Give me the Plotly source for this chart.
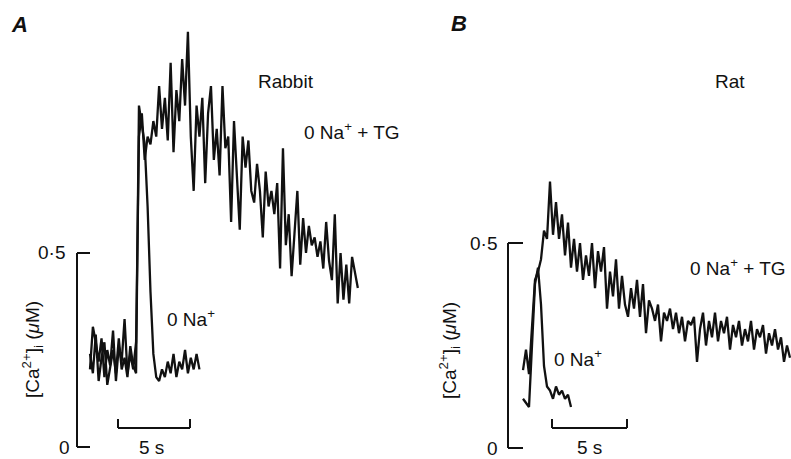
import plotly.graph_objects as go

W, H = 791, 459
DT = 0.2  # s per sample

# ---------------- data ([Ca2+]i in uM) ----------------
rabbit_tg = [0.20, 0.31, 0.27, 0.22, 0.28, 0.18, 0.25, 0.21, 0.30, 0.17, 0.26, 0.22, 0.33, 0.19, 0.24, 0.20, 0.27,
             0.80, 0.86, 0.74, 0.80, 0.78, 0.84, 0.80, 0.93, 0.82, 0.90, 0.79, 0.99, 0.76, 0.92, 0.84, 1.00, 0.88,
             1.07, 0.80, 0.66, 0.88, 0.80, 0.90, 0.68, 0.86, 0.93, 0.74, 0.82, 0.70, 0.93, 0.77, 0.80, 0.58, 0.84,
             0.70, 0.56, 0.80, 0.72, 0.79, 0.66, 0.63, 0.73, 0.66, 0.54, 0.71, 0.62, 0.66, 0.60, 0.68, 0.46, 0.77,
             0.52, 0.60, 0.44, 0.55, 0.66, 0.47, 0.59, 0.50, 0.57, 0.52, 0.54, 0.49, 0.53, 0.46, 0.58, 0.48, 0.43,
             0.60, 0.37, 0.50, 0.38, 0.47, 0.37, 0.49, 0.45, 0.41]
rabbit_na = [0.24, 0.19, 0.29, 0.17, 0.23, 0.27, 0.16, 0.21, 0.25, 0.19, 0.28, 0.20, 0.23, 0.18, 0.26, 0.21, 0.19,
             0.88, 0.83, 0.78, 0.62, 0.40, 0.24, 0.18, 0.17, 0.20, 0.18, 0.22, 0.19, 0.24, 0.18, 0.22, 0.20, 0.25,
             0.19, 0.23, 0.20, 0.24, 0.20]
rat_tg = [0.19, 0.24, 0.18, 0.30, 0.41, 0.43, 0.46, 0.53, 0.51, 0.65, 0.52, 0.60, 0.51, 0.57, 0.47, 0.55, 0.44,
          0.51, 0.43, 0.50, 0.41, 0.47, 0.42, 0.50, 0.39, 0.48, 0.43, 0.49, 0.34, 0.43, 0.37, 0.46, 0.34, 0.42,
          0.35, 0.32, 0.39, 0.34, 0.41, 0.32, 0.40, 0.28, 0.36, 0.34, 0.31, 0.35, 0.26, 0.33, 0.31, 0.34, 0.29,
          0.33, 0.28, 0.32, 0.26, 0.31, 0.30, 0.32, 0.21, 0.29, 0.33, 0.25, 0.31, 0.27, 0.33, 0.26, 0.31, 0.28,
          0.32, 0.24, 0.30, 0.27, 0.31, 0.25, 0.29, 0.26, 0.31, 0.24, 0.29, 0.27, 0.30, 0.23, 0.28, 0.25, 0.29,
          0.24, 0.27, 0.21, 0.25, 0.22]
rat_na = [0.12, 0.11, 0.10, 0.25, 0.40, 0.44, 0.35, 0.20, 0.15, 0.14, 0.12, 0.15, 0.13, 0.14, 0.12, 0.13, 0.10]

y_ticks = [0, 0.5]
y_tick_labels = ["0", "0·5"]
scale_bar_s = 5

def times(vals):
    return [i * DT for i in range(len(vals))]

def px(x):
    return x / W

def py(y):
    return 1 - y / H

INK = "#111111"
FONT = "Liberation Sans, Arial, Helvetica, sans-serif"
FS = 19

fig = go.Figure()
for vals, xa, ya in [(rabbit_tg, "x", "y"), (rabbit_na, "x", "y"),
                     (rat_tg, "x2", "y2"), (rat_na, "x2", "y2")]:
    fig.add_trace(go.Scatter(x=times(vals), y=vals, mode="lines", xaxis=xa, yaxis=ya,
                             line=dict(color=INK, width=2.3), showlegend=False, hoverinfo="skip"))

# axis ranges derived from pixel geometry of the reference
A_x0, A_sx, A_y0, A_sy = 90, 14.4, 447, 388
B_x0, B_sx, B_y0, B_sy = 523, 15.0, 448, 410
A_dom = (0, 395)
B_dom = (400, 791)

def ax_common():
    return dict(visible=False, showgrid=False, zeroline=False, fixedrange=True)

fig.update_layout(
    width=W, height=H, margin=dict(l=0, r=0, t=0, b=0),
    paper_bgcolor="white", plot_bgcolor="white",
    xaxis=dict(domain=[px(A_dom[0]), px(A_dom[1])],
               range=[(A_dom[0] - A_x0) / A_sx, (A_dom[1] - A_x0) / A_sx], **ax_common()),
    yaxis=dict(domain=[0, 1], range=[(A_y0 - H) / A_sy, A_y0 / A_sy], **ax_common()),
    xaxis2=dict(domain=[px(B_dom[0]), px(B_dom[1])],
                range=[(B_dom[0] - B_x0) / B_sx, (B_dom[1] - B_x0) / B_sx], **ax_common()),
    yaxis2=dict(domain=[0, 1], range=[(B_y0 - H) / B_sy, B_y0 / B_sy], **ax_common()),
)

shapes = []
annotations = []

def panel_axes(xr, yr, axis_t, bar_t0, bar_v, bar_tick_v):
    ln = dict(color=INK, width=2)
    shapes.append(dict(type="line", xref=xr, yref=yr, x0=axis_t, x1=axis_t,
                       y0=y_ticks[0], y1=y_ticks[-1], line=ln))
    for v in y_ticks:
        shapes.append(dict(type="line", xref=xr, yref=yr, x0=axis_t, x1=0, y0=v, y1=v, line=ln))
    shapes.append(dict(type="line", xref=xr, yref=yr, x0=bar_t0, x1=bar_t0 + scale_bar_s,
                       y0=bar_v, y1=bar_v, line=ln))
    for t in (bar_t0, bar_t0 + scale_bar_s):
        shapes.append(dict(type="line", xref=xr, yref=yr, x0=t, x1=t, y0=bar_v, y1=bar_tick_v, line=ln))

panel_axes("x", "y", (77 - A_x0) / A_sx, (118 - A_x0) / A_sx, (A_y0 - 428) / A_sy, (A_y0 - 419) / A_sy)
panel_axes("x2", "y2", (508 - B_x0) / B_sx, (552 - B_x0) / B_sx, (B_y0 - 428) / B_sy, (B_y0 - 419) / B_sy)

def txt(text, x, y, xanchor="left", size=FS, angle=0, yanchor="middle"):
    annotations.append(dict(text=text, x=px(x), y=py(y), xref="paper", yref="paper",
                            xanchor=xanchor, yanchor=yanchor, showarrow=False, textangle=angle,
                            font=dict(family=FONT, size=size, color=INK)))

# tick labels
txt(y_tick_labels[1], 67, 253, "right")
txt(y_tick_labels[0], 72, 447, "right")
txt(y_tick_labels[1], 499, 243, "right")
txt(y_tick_labels[0], 500, 448, "right")

# y titles
ytitle = "[Ca<sup>2+</sup>]<sub>i</sub> (<i>μ</i>M)"
txt(ytitle, 32, 350, "center", angle=-90)
txt(ytitle, 449, 351, "center", angle=-90)

# scale bar labels
txt("5 s", 151, 447, "center")
txt("5 s", 589, 447, "center")

# trace labels
txt("Rabbit", 286, 81, "center")
txt("0 Na<sup>+</sup> + TG", 302, 131)
txt("0 Na<sup>+</sup>", 165, 318)
txt("Rat", 730, 81, "center")
txt("0 Na<sup>+</sup> + TG", 688, 267)
txt("0 Na<sup>+</sup>", 552, 358)

# panel letters
txt("<b><i>A</i></b>", 9, 25, size=22)
txt("<b><i>B</i></b>", 449, 23, size=22)

fig.update_layout(shapes=shapes, annotations=annotations)
fig.write_html("out.html")
